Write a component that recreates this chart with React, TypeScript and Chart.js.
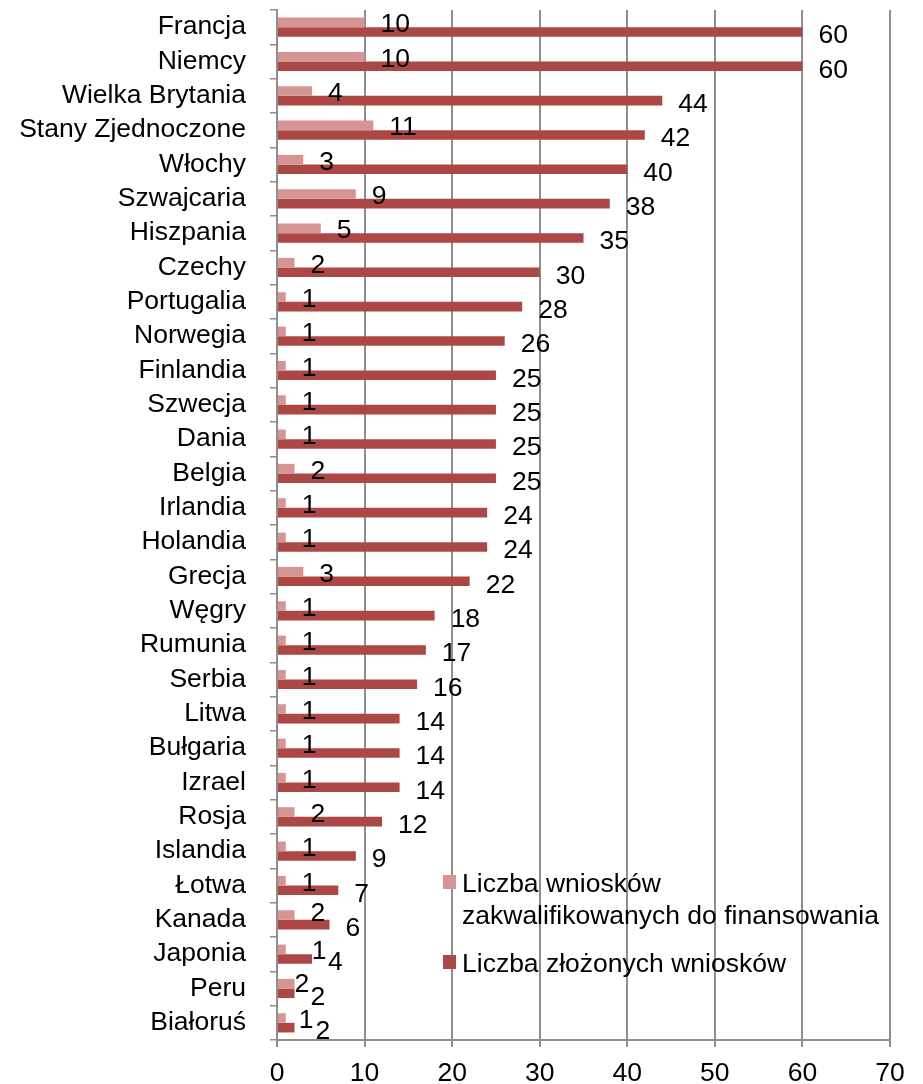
import React, { useEffect, useRef } from "react";
import { Chart, registerables } from "chart.js";

Chart.register(...registerables);

const categories = [
  "Francja", "Niemcy", "Wielka Brytania", "Stany Zjednoczone", "Włochy",
  "Szwajcaria", "Hiszpania", "Czechy", "Portugalia", "Norwegia",
  "Finlandia", "Szwecja", "Dania", "Belgia", "Irlandia",
  "Holandia", "Grecja", "Węgry", "Rumunia", "Serbia",
  "Litwa", "Bułgaria", "Izrael", "Rosja", "Islandia",
  "Łotwa", "Kanada", "Japonia", "Peru", "Białoruś",
];

const qualified = [10, 10, 4, 11, 3, 9, 5, 2, 1, 1, 1, 1, 1, 2, 1, 1, 3, 1, 1, 1, 1, 1, 1, 2, 1, 1, 2, 1, 2, 1];
const submitted = [60, 60, 44, 42, 40, 38, 35, 30, 28, 26, 25, 25, 25, 25, 24, 24, 22, 18, 17, 16, 14, 14, 14, 12, 9, 7, 6, 4, 2, 2];

const qualifiedLegend = ["Liczba wniosków", "zakwalifikowanych do finansowania"];
const submittedLegend = ["Liczba złożonych wniosków"];

const xMin = 0;
const xMax = 70;
const xStep = 10;

const LIGHT = "#D69593";
const DARK = "#AB4745";
const GRID = "#8e8e8e";
const FONT = '"Liberation Sans", Arial, sans-serif';
const FS = 26.5;

// small label placement adjustments (overlap avoidance as in the original)
const labelNudge: Record<string, { dx: number; dy: number }> = {
  "0:Kanada": { dx: 0, dy: -4 },
  "0:Japonia": { dx: 10, dy: 0 },
  "0:Peru": { dx: -16, dy: -2 },
  "0:Białoruś": { dx: -3, dy: 0 },
  "1:Białoruś": { dx: 5, dy: 0 },
};

const valueLabels = {
  id: "valueLabels",
  afterDatasetsDraw(chart: any) {
    const ctx = chart.ctx;
    ctx.save();
    ctx.font = `${FS}px ${FONT}`;
    ctx.fillStyle = "#000";
    ctx.textAlign = "left";
    ctx.textBaseline = "alphabetic";
    chart.data.datasets.forEach((ds: any, di: number) => {
      const meta = chart.getDatasetMeta(di);
      meta.data.forEach((el: any, i: number) => {
        const v = ds.data[i];
        const n = labelNudge[`${di}:${chart.data.labels[i]}`] || { dx: 0, dy: 0 };
        const dy = di === 0 ? 0.5 : 2;
        ctx.fillText(String(v), el.x + 16 + n.dx, el.y + dy + n.dy + 0.358 * FS);
      });
    });
    ctx.restore();
  },
};

const customLegend = {
  id: "customLegend",
  afterDraw(chart: any) {
    const ctx = chart.ctx;
    const area = chart.chartArea;
    const mx = area.left + 166;
    const tx = area.left + 185;
    const items = [
      { color: LIGHT, lines: qualifiedLegend, base: area.bottom - 148 },
      { color: DARK, lines: submittedLegend, base: area.bottom - 68 },
    ];
    ctx.save();
    ctx.font = `${FS}px ${FONT}`;
    ctx.textAlign = "left";
    ctx.textBaseline = "alphabetic";
    items.forEach((it) => {
      ctx.fillStyle = it.color;
      ctx.fillRect(mx, it.base - 17, 13, 14);
      ctx.fillStyle = "#000";
      it.lines.forEach((ln, k) => {
        ctx.fillText(ln, tx, it.base + k * 31.5);
      });
    });
    ctx.restore();
  },
};

export default function App() {
  const ref = useRef<HTMLCanvasElement | null>(null);
  useEffect(() => {
    if (!ref.current) return;
    const chart = new Chart(ref.current, {
      type: "bar",
      data: {
        labels: categories,
        datasets: [
          {
            label: qualifiedLegend.join(" "),
            data: qualified,
            backgroundColor: LIGHT,
            categoryPercentage: 0.56,
            barPercentage: 1,
          },
          {
            label: submittedLegend.join(" "),
            data: submitted,
            backgroundColor: DARK,
            categoryPercentage: 0.56,
            barPercentage: 1,
          },
        ],
      },
      options: {
        indexAxis: "y",
        responsive: true,
        maintainAspectRatio: false,
        animation: false,
        layout: { padding: { top: 10, right: 33, left: 0, bottom: 0 } },
        plugins: {
          legend: { display: false },
          tooltip: { enabled: false },
        },
        scales: {
          x: {
            min: xMin,
            max: xMax,
            ticks: {
              stepSize: xStep,
              color: "#000",
              font: { family: FONT, size: FS },
              padding: 11,
            },
            grid: { color: GRID, lineWidth: 2, tickLength: 7 },
            border: { color: GRID, width: 2 },
            afterFit(s: any) {
              s.height = 44;
              s.paddingLeft = 0;
              s.paddingRight = 0;
            },
          },
          y: {
            ticks: {
              color: "#000",
              font: { family: FONT, size: FS },
              padding: 24,
              autoSkip: false,
            },
            grid: {
              offset: true,
              drawOnChartArea: false,
              color: GRID,
              lineWidth: 1.5,
              tickLength: 7,
            },
            border: { color: GRID, width: 2 },
            afterFit(s: any) {
              s.width = 277;
              s.paddingTop = 0;
              s.paddingBottom = 0;
            },
          },
        },
      },
      plugins: [valueLabels, customLegend],
    } as any);
    return () => chart.destroy();
  }, []);
  return (
    <div style={{ position: "absolute", left: 0, top: 0, width: 923, height: 1084, background: "#fff" }}>
      <canvas ref={ref} />
    </div>
  );
}
